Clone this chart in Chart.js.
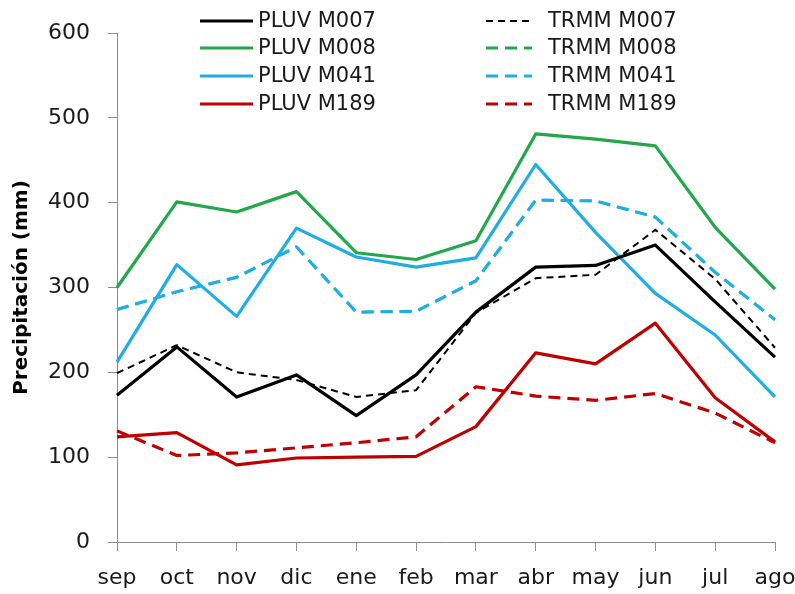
<!DOCTYPE html>
<html>
<head>
<meta charset="utf-8">
<script src="https://cdn.jsdelivr.net/npm/chart.js@4/dist/chart.umd.min.js"></script>
<style>
  body { margin: 0; background: #fff; }
</style>
</head>
<body>
<canvas id="rainChart" width="795" height="594"></canvas>
<script>
// meses (año hidrológico)
const months = ["sep", "oct", "nov", "dic", "ene", "feb", "mar", "abr", "may", "jun", "jul", "ago"];
const yTicks = [0, 100, 200, 300, 400, 500, 600];

// pluviómetros
const pluvM007 = [173, 230, 171, 197, 149, 197, 271, 324, 326, 350, 283, 218];
const pluvM008 = [300, 401, 389, 413, 341, 333, 355, 481, 475, 467, 371, 298];
const pluvM041 = [212, 327, 266, 370, 336, 324, 335, 445, 365, 293, 244, 171];
const pluvM189 = [124, 129, 91, 99, 100, 101, 136, 223, 210, 258, 170, 118];

// TRMM (M008 queda tapada por M041: misma celda)
const trmmM007 = [199, 232, 200, 191, 171, 179, 270, 311, 315, 368, 310, 229];
const trmmM008 = [274, 295, 312, 348, 271, 272, 308, 403, 402, 383, 318, 262];
const trmmM041 = [274, 295, 312, 348, 271, 272, 308, 403, 402, 383, 318, 262];
const trmmM189 = [131, 102, 105, 111, 117, 124, 183, 172, 167, 175, 152, 117];

const FONT = "'DejaVu Sans', sans-serif";

const line = (label, data, color, dash, width, order) => ({
  label: label,
  data: data,
  borderColor: color,
  backgroundColor: color,
  borderWidth: width,
  borderDash: dash,
  borderJoinStyle: 'round',
  pointRadius: 0,
  tension: 0,
  fill: false,
  order: order || 0
});

const datasets = [
  line('PLUV M007', pluvM007, '#000000', [], 3.2),
  line('PLUV M008', pluvM008, '#22A84A', [], 3.2),
  line('PLUV M041', pluvM041, '#1EAEE4', [], 3.2),
  line('PLUV M189', pluvM189, '#C00000', [], 3.2),
  line('TRMM M007', trmmM007, '#000000', [7, 5], 2),
  line('TRMM M008', trmmM008, '#22A84A', [12, 7], 2.2, 1),
  line('TRMM M041', trmmM041, '#1EAEE4', [12, 7], 3.2),
  line('TRMM M189', trmmM189, '#C00000', [12, 7], 3.2)
];

// leyenda en dos columnas dentro del gráfico
const twoColumnLegend = {
  id: 'twoColumnLegend',
  afterDraw(chart) {
    const ctx = chart.ctx;
    const rows = [21, 48, 76, 104];
    ctx.save();
    ctx.font = "21px " + FONT;
    ctx.textBaseline = 'middle';
    ctx.fillStyle = '#1a1a1a';
    chart.data.datasets.forEach((ds, i) => {
      const col = i < 4 ? 0 : 1;
      const y = rows[i % 4];
      const x0 = col === 0 ? 200 : 486;
      const x1 = col === 0 ? 253 : 532;
      const tx = col === 0 ? 258 : 548;
      ctx.beginPath();
      ctx.strokeStyle = ds.borderColor;
      ctx.lineWidth = i === 4 ? 2 : 3.2;
      ctx.setLineDash(ds.borderDash);
      ctx.moveTo(x0, y);
      ctx.lineTo(x1, y);
      ctx.stroke();
      ctx.setLineDash([]);
      ctx.fillText(ds.label, tx, y + 1);
    });
    ctx.restore();
  }
};

new Chart(document.getElementById('rainChart'), {
  type: 'line',
  data: { labels: months, datasets: datasets },
  options: {
    responsive: false,
    animation: false,
    layout: { padding: { top: 33, right: 20, left: 0, bottom: 0 } },
    plugins: {
      legend: { display: false },
      tooltip: { enabled: false }
    },
    scales: {
      x: {
        offset: false,
        afterFit: s => { s.height = 52; s.paddingLeft = 0; s.paddingRight = 0; },
        border: { color: '#8c8c8c', width: 1 },
        grid: { drawOnChartArea: false, drawTicks: true, tickLength: 9, color: '#8c8c8c' },
        ticks: { font: { family: FONT, size: 22 }, color: '#1a1a1a', padding: 14, maxRotation: 0, autoSkip: false }
      },
      y: {
        min: yTicks[0],
        max: yTicks[yTicks.length - 1],
        afterFit: s => { s.width = 117; },
        afterBuildTicks: s => { s.ticks = yTicks.map(v => ({ value: v })); },
        border: { color: '#8c8c8c', width: 1 },
        grid: { drawOnChartArea: false, drawTicks: true, tickLength: 9, color: '#8c8c8c' },
        ticks: { font: { family: FONT, size: 22 }, color: '#1a1a1a', padding: 18 },
        title: {
          display: true,
          text: 'Precipitación (mm)',
          font: { family: FONT, size: 20, weight: 'bold' },
          color: '#000000',
          padding: { top: 10, bottom: 0 }
        }
      }
    }
  },
  plugins: [twoColumnLegend]
});
</script>
</body>
</html>
